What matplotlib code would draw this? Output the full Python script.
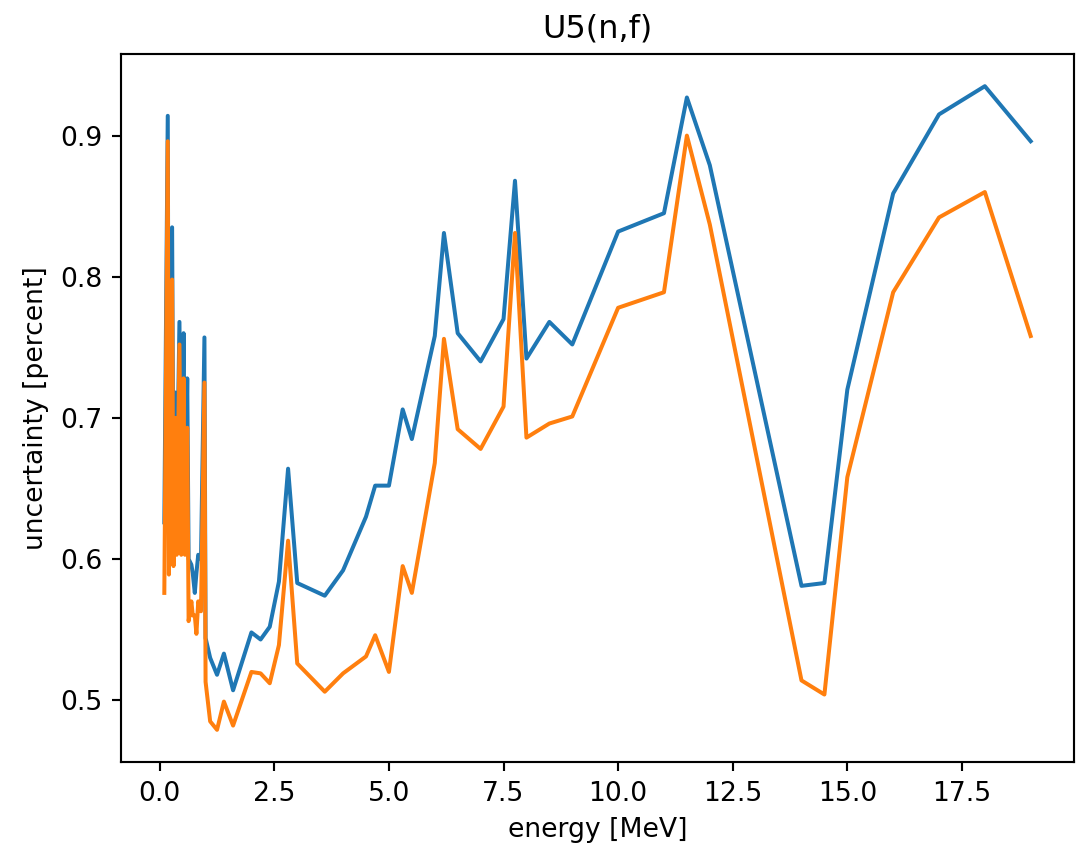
import matplotlib
matplotlib.use('Agg')
import matplotlib.pyplot as plt

DPI = 192

# energy grid in MeV
energy = [0.10, 0.175, 0.20, 0.27, 0.30, 0.34, 0.37, 0.43, 0.47, 0.52,
          0.55, 0.60, 0.63, 0.69, 0.72, 0.765, 0.80, 0.84, 0.90, 0.975,
          1.0, 1.1, 1.25, 1.4, 1.6, 2.0, 2.2, 2.4, 2.6, 2.8,
          3.0, 3.6, 4.0, 4.5, 4.7, 5.0, 5.3, 5.5, 6.0, 6.2,
          6.5, 7.0, 7.5, 7.75, 8.0, 8.5, 9.0, 10.0, 11.0, 11.5,
          12.0, 14.0, 14.5, 15.0, 16.0, 17.0, 18.0, 19.0]

unc_total = [0.626, 0.914, 0.620, 0.835, 0.630, 0.718, 0.640, 0.768, 0.620, 0.760,
             0.620, 0.728, 0.600, 0.596, 0.590, 0.576, 0.590, 0.603, 0.600, 0.757,
             0.544, 0.530, 0.518, 0.533, 0.507, 0.548, 0.543, 0.552, 0.584, 0.664,
             0.583, 0.574, 0.592, 0.630, 0.652, 0.652, 0.706, 0.685, 0.758, 0.831,
             0.760, 0.740, 0.770, 0.868, 0.742, 0.768, 0.752, 0.832, 0.845, 0.927,
             0.879, 0.581, 0.583, 0.720, 0.859, 0.915, 0.935, 0.896]

unc_reduced = [0.576, 0.896, 0.589, 0.798, 0.595, 0.700, 0.603, 0.752, 0.603, 0.728,
               0.603, 0.693, 0.556, 0.570, 0.560, 0.560, 0.547, 0.570, 0.563, 0.725,
               0.513, 0.485, 0.479, 0.499, 0.482, 0.520, 0.519, 0.512, 0.539, 0.613,
               0.526, 0.506, 0.519, 0.531, 0.546, 0.520, 0.595, 0.576, 0.668, 0.756,
               0.692, 0.678, 0.708, 0.831, 0.686, 0.696, 0.701, 0.778, 0.789, 0.900,
               0.837, 0.514, 0.504, 0.658, 0.789, 0.842, 0.860, 0.758]


def main():
    fig = plt.figure(figsize=(1076 / DPI, 847 / DPI), dpi=DPI)
    ax = fig.add_axes([121 / 1076, 85 / 847, 953 / 1076, 708 / 847])

    ax.plot(energy, unc_total)
    ax.plot(energy, unc_reduced)

    ax.set_title('U5(n,f)')
    ax.set_xlabel('energy [MeV]')
    ax.set_ylabel('uncertainty [percent]')

    fig.savefig('out.png', dpi=DPI)


if __name__ == '__main__':
    main()
